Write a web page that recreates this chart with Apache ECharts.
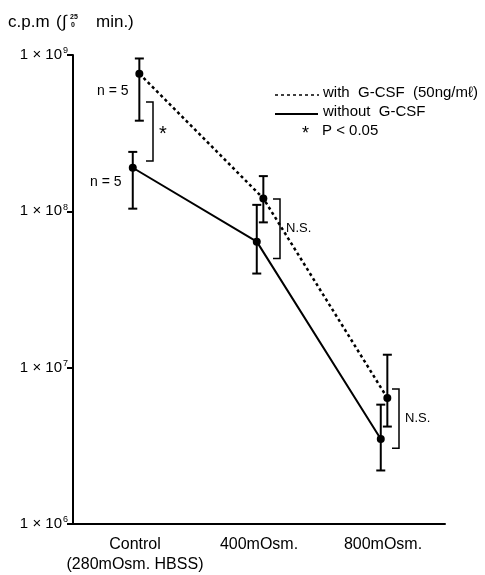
<!DOCTYPE html>
<html>
<head>
<meta charset="utf-8">
<script src="https://cdn.jsdelivr.net/npm/echarts@6/dist/echarts.min.js"></script>
<style>
html, body { margin: 0; padding: 0; background: #fff; }
#main { width: 485px; height: 575px; }
</style>
</head>
<body>
<div id="main"></div>
<script>
// data
var categories = ['Control\n(280mOsm. HBSS)', '400mOsm.', '800mOsm.'];
var withMean = [7.6e8, 1.21e8, 6.4e6];
var withHigh = [9.5e8, 1.68e8, 1.21e7];
var withLow = [3.8e8, 8.5e7, 4.2e6];
var withoutMean = [1.9e8, 6.4e7, 3.5e6];
var withoutHigh = [2.4e8, 1.1e8, 5.8e6];
var withoutLow = [1.04e8, 4.0e7, 2.2e6];
// significance brackets: [category, top, bottom, label]
var brackets = [[0, 5.0e8, 2.1e8, '*'], [1, 1.2e8, 5.0e7, 'N.S.'], [2, 7.3e6, 3.05e6, 'N.S.']];
var yTicks = [1e6, 1e7, 1e8, 1e9];

var FONT = '"Liberation Sans", Arial, sans-serif';
var DX_WITH = 0.035, DX_WITHOUT = -0.018;   // small horizontal shift, category units
var bracketShift = [18, 21, 16];            // px right of category centre

var myChart = echarts.init(document.getElementById('main'));

function errData(mean, hi, lo, dx) {
    return mean.map(function (v, i) { return [i + dx, lo[i], hi[i]]; });
}
function renderErr(params, api) {
    var x = api.value(0);
    var a = api.coord([x, api.value(2)]);
    var b = api.coord([x, api.value(1)]);
    var s = {stroke: '#000', lineWidth: 2};
    return {type: 'group', children: [
        {type: 'line', shape: {x1: a[0], y1: a[1], x2: b[0], y2: b[1]}, style: s},
        {type: 'line', shape: {x1: a[0] - 4.5, y1: a[1], x2: a[0] + 4.5, y2: a[1]}, style: s},
        {type: 'line', shape: {x1: b[0] - 4.5, y1: b[1], x2: b[0] + 4.5, y2: b[1]}, style: s}
    ]};
}
function renderBracket(params, api) {
    var i = api.value(0);
    var t = api.coord([i, api.value(1)]);
    var b = api.coord([i, api.value(2)]);
    var x = t[0] + bracketShift[params.dataIndex];
    var s = {stroke: '#000', lineWidth: 1.5, fill: null};
    var lab = brackets[params.dataIndex][3];
    return {type: 'group', children: [
        {type: 'polyline', shape: {points: [[x - 7, t[1]], [x, t[1]], [x, b[1]], [x - 7, b[1]]]}, style: s},
        {type: 'text', x: x + 6, y: (t[1] + b[1]) / 2 + (lab === '*' ? 3 : 0),
         style: {text: lab, fill: '#000', font: (lab === '*' ? '20px ' : '13px ') + FONT,
                 verticalAlign: 'middle', align: 'left'}}
    ]};
}

function txt(x, y, s, size, extra) {
    return {type: 'text', x: x, y: y, style: {text: s, fill: '#000', font: (extra || '') + size + 'px ' + FONT,
            verticalAlign: 'middle', align: 'left'}};
}

option = {
    animation: false,
    backgroundColor: '#fff',
    grid: {left: 73, right: 40, top: 55, bottom: 49},
    xAxis: [{
        type: 'category',
        data: categories,
        boundaryGap: true,
        axisLine: {lineStyle: {color: '#000', width: 2}},
        axisTick: {alignWithLabel: true, length: 6, lineStyle: {color: '#000', width: 2}},
        axisLabel: {color: '#000', fontSize: 16, fontFamily: FONT, margin: 11, lineHeight: 20, interval: 0}
    }, {
        type: 'value', min: -0.5, max: 2.5, show: false
    }],
    yAxis: {
        type: 'log',
        logBase: 10,
        min: yTicks[0],
        max: yTicks[yTicks.length - 1],
        splitLine: {show: false},
        minorTick: {show: false},
        axisLine: {show: true, onZero: false, lineStyle: {color: '#000', width: 2}},
        axisTick: {show: true, length: 6, lineStyle: {color: '#000', width: 2}},
        axisLabel: {
            color: '#000', fontFamily: FONT, fontSize: 15, margin: 5,
            formatter: function (v) {
                return '1 × 10{s|' + Math.round(Math.log10(v)) + '}';
            },
            rich: {s: {fontSize: 9, fontFamily: FONT, color: '#000', verticalAlign: 'top', padding: [0, 0, 8, 1]}}
        }
    },
    series: [
        {
            name: 'with G-CSF', type: 'line', xAxisIndex: 1,
            data: withMean.map(function (v, i) { return [i + DX_WITH, v]; }),
            symbol: 'circle', symbolSize: 8,
            itemStyle: {color: '#000'},
            lineStyle: {color: '#000', width: 2.5, type: [3, 3]}
        },
        {
            name: 'without G-CSF', type: 'line', xAxisIndex: 1,
            data: withoutMean.map(function (v, i) { return [i + DX_WITHOUT, v]; }),
            symbol: 'circle', symbolSize: 8,
            itemStyle: {color: '#000'},
            lineStyle: {color: '#000', width: 2}
        },
        {type: 'custom', xAxisIndex: 1, renderItem: renderErr, data: errData(withMean, withHigh, withLow, DX_WITH), z: 3},
        {type: 'custom', xAxisIndex: 1, renderItem: renderErr, data: errData(withoutMean, withoutHigh, withoutLow, DX_WITHOUT), z: 3},
        {type: 'custom', xAxisIndex: 0, renderItem: renderBracket, data: brackets.map(function (b) { return [b[0], b[1], b[2]]; }), z: 3}
    ],
    graphic: [
        // title
        txt(8, 22, 'c.p.m', 17),
        txt(56, 22, '(', 17),
        txt(62, 22, '∫', 17),
        txt(70, 17, '25', 7, 'bold '),
        txt(71, 25, '0', 7, 'bold '),
        txt(96, 22, 'min.)', 17),
        // n labels
        txt(97, 91, 'n = 5', 14),
        txt(90, 182, 'n = 5', 14),
        // legend
        {type: 'line', shape: {x1: 275, y1: 95, x2: 319, y2: 95}, style: {stroke: '#000', lineWidth: 1.5, lineDash: [3, 3]}},
        txt(323, 93, 'with  G-CSF  (50ng/mℓ)', 15),
        {type: 'line', shape: {x1: 275, y1: 114, x2: 318, y2: 114}, style: {stroke: '#000', lineWidth: 2}},
        txt(323, 111.5, 'without  G-CSF', 15),
        txt(302, 134, '*', 18),
        txt(322, 131, 'P < 0.05', 15)
    ]
};
myChart.setOption(option);
</script>
</body>
</html>
